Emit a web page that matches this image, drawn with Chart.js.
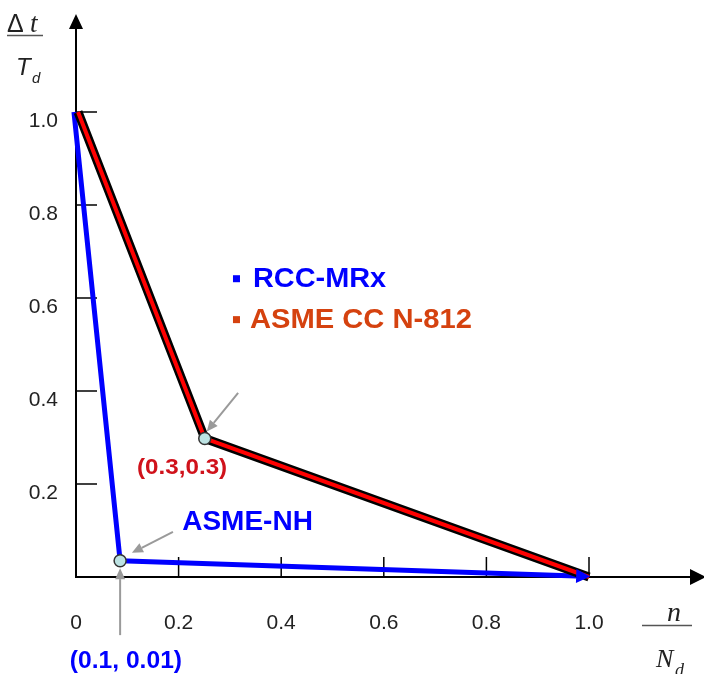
<!DOCTYPE html>
<html>
<head>
<meta charset="utf-8">
<script src="https://cdn.jsdelivr.net/npm/chart.js@4"></script>
<style>
html, body { margin: 0; padding: 0; background: #fff; }
#wrap { width: 704px; height: 674px; }
</style>
</head>
<body>
<div id="wrap"><canvas id="chart" width="704" height="674"></canvas></div>
<script>
// values (where the points are drawn, not what the labels say)
var xTicks = [0, 0.2, 0.4, 0.6, 0.8, 1.0];
var yTicks = [0.2, 0.4, 0.6, 0.8, 1.0];
var ccX = [0.004, 0.251, 1.0];      // ASME CC N-812 / RCC-MRx
var ccY = [1.0, 0.298, 0.0];
var nhX = [-0.004, 0.086, 0.975];   // ASME-NH
var nhY = [1.0, 0.035, 0.002];
var kneeX = [0.251, 0.086];
var kneeY = [0.298, 0.035];

var SANS = 'Arial, "Liberation Sans", sans-serif';
var SERIF = '"Times New Roman", "Liberation Serif", serif';

function pts(xs, ys) {
    return xs.map(function (x, i) { return { x: x, y: ys[i] }; });
}

function tri(c, ax, ay, bx, by, cx, cy) {
    c.beginPath();
    c.moveTo(ax, ay); c.lineTo(bx, by); c.lineTo(cx, cy);
    c.closePath();
    c.fill();
}

// arrow pointing from (x1,y1) to (x2,y2)
function arrow(c, x1, y1, x2, y2, len, half) {
    var dx = x2 - x1, dy = y2 - y1, d = Math.sqrt(dx * dx + dy * dy);
    var ux = dx / d, uy = dy / d;
    var bx = x2 - ux * len, by = y2 - uy * len;
    c.beginPath(); c.moveTo(x1, y1); c.lineTo(bx, by); c.stroke();
    tri(c, x2, y2, bx - uy * half, by + ux * half, bx + uy * half, by - ux * half);
}

function txt(c, s, x, y, font, color, sx) {
    c.save();
    c.font = font;
    c.fillStyle = color;
    c.textBaseline = 'alphabetic';
    c.textAlign = 'left';
    c.translate(x, y);
    c.scale(sx || 1, 1);
    c.fillText(s, 0, 0);
    c.restore();
}

var sketch = {
    id: 'sketch',
    beforeDatasetsDraw: function (chart) {
        var c = chart.ctx, xs = chart.scales.x, ys = chart.scales.y;
        var x0 = xs.getPixelForValue(0), y0 = ys.getPixelForValue(0);
        c.save();
        c.strokeStyle = '#000';
        c.fillStyle = '#000';
        c.lineWidth = 2;
        c.beginPath();
        c.moveTo(x0, 28); c.lineTo(x0, y0); c.lineTo(691, y0);
        c.stroke();
        tri(c, x0, 14, x0 - 7, 29, x0 + 7, 29);
        tri(c, 706, y0, 690, y0 - 8, 690, y0 + 8);

        c.lineWidth = 1.5;
        yTicks.forEach(function (v) {
            var p = ys.getPixelForValue(v);
            c.beginPath(); c.moveTo(x0, p); c.lineTo(x0 + 21, p); c.stroke();
        });
        xTicks.forEach(function (v) {
            if (v === 0) return;
            var p = xs.getPixelForValue(v);
            c.beginPath(); c.moveTo(p, y0); c.lineTo(p, y0 - 20); c.stroke();
        });

        // axis titles
        txt(c, '\u0394', 7, 32, '25px ' + SANS, '#222');
        txt(c, 't', 30, 32, 'italic 27px ' + SERIF, '#222');
        c.strokeStyle = '#555'; c.lineWidth = 1.5;
        c.beginPath(); c.moveTo(7, 35.5); c.lineTo(43, 35.5); c.stroke();
        txt(c, 'T', 16, 75, 'italic 24px ' + SANS, '#222');
        txt(c, 'd', 32, 83, 'italic 15px ' + SANS, '#222');

        txt(c, 'n', 667, 621, 'italic 28px ' + SERIF, '#222');
        c.beginPath(); c.moveTo(642, 625.5); c.lineTo(692, 625.5); c.stroke();
        txt(c, 'N', 656, 667, 'italic 26px ' + SERIF, '#222');
        txt(c, 'd', 675, 676, 'italic 18px ' + SERIF, '#222');
        c.restore();
    },
    afterDatasetsDraw: function (chart) {
        var c = chart.ctx, xs = chart.scales.x, ys = chart.scales.y;
        function px(v) { return xs.getPixelForValue(v); }
        function py(v) { return ys.getPixelForValue(v); }
        c.save();

        // blue arrow head at the end of ASME-NH
        var n = nhX.length;
        var ax = px(nhX[n - 2]), ay = py(nhY[n - 2]);
        var bx = px(nhX[n - 1]), by = py(nhY[n - 1]);
        var dx = bx - ax, dy = by - ay, d = Math.sqrt(dx * dx + dy * dy);
        var ux = dx / d, uy = dy / d;
        c.fillStyle = '#0000ff';
        tri(c, bx + ux * 14, by + uy * 14, bx - uy * 7, by + ux * 7, bx + uy * 7, by - ux * 7);

        // grey call-out arrows
        c.strokeStyle = '#9a9a9a';
        c.fillStyle = '#9a9a9a';
        c.lineWidth = 2;
        arrow(c, px(0.316), py(0.396), px(0.255), py(0.313), 11, 5);
        arrow(c, px(0.189), py(0.097), px(0.109), py(0.052), 11, 5);
        arrow(c, px(0.086), py(-0.125), px(0.086), py(0.019), 11, 5);

        // text labels
        var blue = '#0000ff', orange = '#d5420f', red = '#d0121b';
        c.fillStyle = blue;
        c.fillRect(px(0.306), py(0.649), 7, 7);
        txt(c, 'RCC-MRx', px(0.345), py(0.624), 'bold 27px ' + SANS, blue, 1.07);
        c.fillStyle = orange;
        c.fillRect(px(0.306), py(0.561), 7, 7);
        txt(c, 'ASME CC N-812', px(0.339), py(0.535), 'bold 27px ' + SANS, orange, 1.08);
        txt(c, '(0.3,0.3)', px(0.119), py(0.222), 'bold 22px ' + SANS, red, 1.1);
        txt(c, 'ASME-NH', px(0.207), py(0.101), 'bold 28px ' + SANS, blue);
        txt(c, '(0.1, 0.01)', px(-0.012), py(-0.196), 'bold 23px ' + SANS, blue, 1.07);
        c.restore();
    }
};

var ctx = document.getElementById('chart').getContext('2d');

var chart = new Chart(ctx, {
    type: 'scatter',
    data: {
        datasets: [{
            label: 'knees',
            data: pts(kneeX, kneeY),
            showLine: false,
            pointRadius: 6,
            pointBackgroundColor: '#bde3e3',
            pointBorderColor: '#333',
            pointBorderWidth: 1.5
        }, {
            label: 'ASME CC N-812',
            data: pts(ccX, ccY),
            showLine: true,
            borderColor: '#ff0000',
            borderWidth: 4,
            borderJoinStyle: 'round',
            pointRadius: 0
        }, {
            label: 'ASME CC outline',
            data: pts(ccX, ccY),
            showLine: true,
            borderColor: '#000',
            borderWidth: 9,
            borderJoinStyle: 'round',
            pointRadius: 0
        }, {
            label: 'ASME-NH',
            data: pts(nhX, nhY),
            showLine: true,
            borderColor: '#0000ff',
            borderWidth: 5,
            borderJoinStyle: 'round',
            pointRadius: 0
        }]
    },
    options: {
        responsive: false,
        animation: false,
        devicePixelRatio: 1,
        clip: false,
        layout: { padding: { top: 112, right: 115, left: 0, bottom: 0 } },
        plugins: {
            legend: { display: false },
            tooltip: { enabled: false }
        },
        scales: {
            x: {
                type: 'linear',
                min: 0,
                max: 1,
                grid: { display: false, drawTicks: false },
                border: { display: false },
                afterBuildTicks: function (s) { s.ticks = xTicks.map(function (v) { return { value: v }; }); },
                afterFit: function (s) { s.height = 97; },
                ticks: {
                    padding: 34,
                    autoSkip: false,
                    maxRotation: 0,
                    color: '#222',
                    font: { family: SANS, size: 21 },
                    callback: function (v) { return v === 0 ? '0' : v.toFixed(1); }
                }
            },
            y: {
                type: 'linear',
                min: 0,
                max: 1,
                grid: { display: false, drawTicks: false },
                border: { display: false },
                afterBuildTicks: function (s) { s.ticks = yTicks.map(function (v) { return { value: v }; }); },
                afterFit: function (s) { s.width = 76; },
                ticks: {
                    padding: 18,
                    labelOffset: 9,
                    autoSkip: false,
                    color: '#222',
                    font: { family: SANS, size: 21 },
                    callback: function (v) { return v.toFixed(1); }
                }
            }
        }
    },
    plugins: [sketch]
});
</script>
</body>
</html>
